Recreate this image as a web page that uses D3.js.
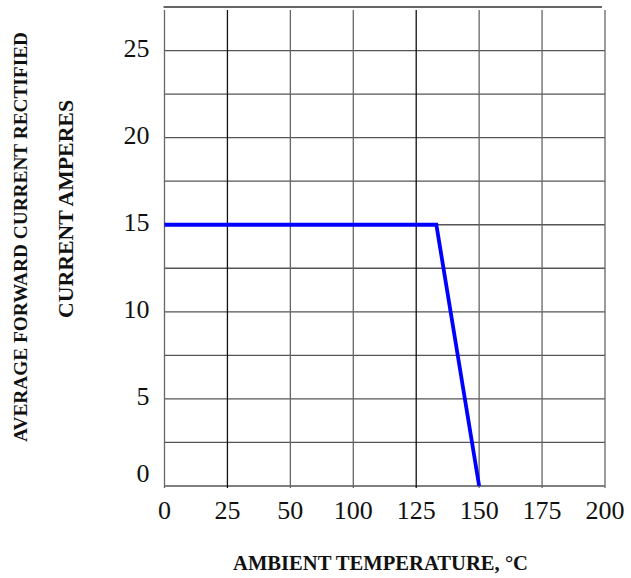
<!DOCTYPE html>
<html>
<head>
<meta charset="utf-8">
<script src="https://cdn.jsdelivr.net/npm/d3@7"></script>
<style>
  body { margin: 0; background: #fff; }
  text { font-family: "Liberation Serif", "Times New Roman", serif; fill: #111; }
</style>
</head>
<body>
<div id="chart"></div>
<script>
// x tick labels as printed (note: the sheet skips 75)
var tempTicks = [0, 25, 50, 100, 125, 150, 175, 200];
var currentTicks = [0, 5, 10, 15, 20, 25];
var currentGrid = [0, 2.5, 5, 7.5, 10, 12.5, 15, 17.5, 20, 22.5, 25];

// derating curve
var tempPts = [0, 133, 150];
var currentPts = [15, 15, 0];

var W = 631, H = 578;
var margins = {top: 7, left: 164.5, right: 26, bottom: 92};
var width = W - margins.left - margins.right;
var height = H - margins.top - margins.bottom;

var svg = d3.select('#chart')
    .append('svg')
    .attr('width', W)
    .attr('height', H);

// evenly spaced columns, one per printed label
var x = d3.scaleLinear()
    .domain(tempTicks)
    .range(tempTicks.map(function (d, i) { return i * width / (tempTicks.length - 1); }));

var y = d3.scaleLinear()
    .domain([0, 27.5])
    .range([height, 0]);

var g = svg.append('g')
    .attr('transform', 'translate(' + margins.left + ',' + margins.top + ')');

// horizontal grid
g.selectAll('.hgrid')
    .data(currentGrid)
    .enter().append('line')
    .attr('class', 'hgrid')
    .attr('x1', 0)
    .attr('x2', width)
    .attr('y1', function (d) { return y(d); })
    .attr('y2', function (d) { return y(d); })
    .attr('stroke', '#555')
    .attr('stroke-width', 1.3);

// top border
g.append('line')
    .attr('x1', -1).attr('x2', width - 3)
    .attr('y1', y(27.5)).attr('y2', y(27.5))
    .attr('stroke', '#333')
    .attr('stroke-width', 1.5);

// vertical grid
g.selectAll('.vgrid')
    .data(tempTicks)
    .enter().append('line')
    .attr('class', 'vgrid')
    .attr('x1', function (d) { return x(d); })
    .attr('x2', function (d) { return x(d); })
    .attr('y1', 3)
    .attr('y2', height + 2)
    .attr('stroke', function (d) { return (d === 25 || d === 125) ? '#111' : '#666'; })
    .attr('stroke-width', 1.3);

// y tick labels
g.selectAll('.ylab')
    .data(currentTicks)
    .enter().append('text')
    .attr('class', 'ylab')
    .attr('x', -15)
    .attr('y', function (d) { return y(d) - (d === 0 ? 13 : 3); })
    .attr('dy', '0.35em')
    .attr('text-anchor', 'end')
    .attr('font-size', '26px')
    .text(function (d) { return d; });

// x tick labels
g.selectAll('.xlab')
    .data(tempTicks)
    .enter().append('text')
    .attr('class', 'xlab')
    .attr('x', function (d) { return x(d); })
    .attr('y', height + 33)
    .attr('text-anchor', 'middle')
    .attr('font-size', '26px')
    .text(function (d) { return d; });

// curve
var line = d3.line()
    .x(function (d) { return x(d[0]); })
    .y(function (d) { return y(d[1]); });

g.append('path')
    .datum(tempPts.map(function (t, i) { return [t, currentPts[i]]; }))
    .attr('d', line)
    .attr('fill', 'none')
    .attr('stroke', '#0000ff')
    .attr('stroke-width', 3.8)
    .attr('stroke-linejoin', 'miter');

// axis titles
svg.append('text')
    .attr('transform', 'translate(' + 26.5 + ',' + 237 + ') rotate(-90)')
    .attr('text-anchor', 'middle')
    .attr('font-size', '19.5px')
    .attr('font-weight', 'bold')
    .attr('textLength', 410)
    .attr('lengthAdjust', 'spacingAndGlyphs')
    .text('AVERAGE FORWARD CURRENT RECTIFIED');

svg.append('text')
    .attr('transform', 'translate(' + 73 + ',' + 209 + ') rotate(-90)')
    .attr('text-anchor', 'middle')
    .attr('font-size', '21px')
    .attr('font-weight', 'bold')
    .attr('textLength', 218)
    .attr('lengthAdjust', 'spacingAndGlyphs')
    .text('CURRENT AMPERES');

svg.append('text')
    .attr('x', 380.5)
    .attr('y', 570)
    .attr('text-anchor', 'middle')
    .attr('font-size', '21px')
    .attr('font-weight', 'bold')
    .attr('textLength', 295)
    .attr('lengthAdjust', 'spacingAndGlyphs')
    .text('AMBIENT TEMPERATURE, °C');
</script>
</body>
</html>
